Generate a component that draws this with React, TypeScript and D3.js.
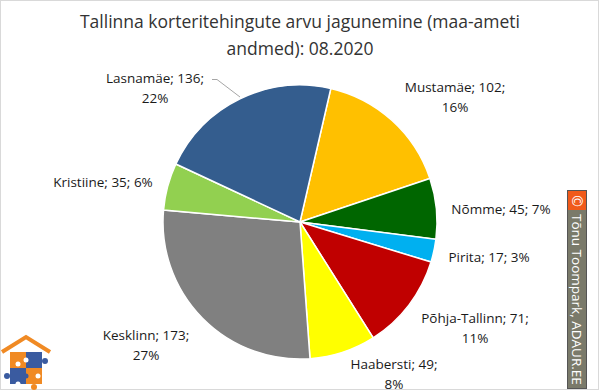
import React from "react";
import * as d3 from "d3";

const districts = ["Mustamäe", "Nõmme", "Pirita", "Põhja-Tallinn", "Haabersti", "Kesklinn", "Kristiine", "Lasnamäe"];
const deals = [102, 45, 17, 71, 49, 173, 35, 136];
const percents = ["16%", "7%", "3%", "11%", "8%", "27%", "6%", "22%"];
const colors = ["#FFC000", "#006600", "#00B0F0", "#C00000", "#FFFF00", "#808080", "#92D050", "#345D8E"];
const titleLines = ["Tallinna korteritehingute arvu jagunemine (maa-ameti", "andmed): 08.2020"];
const watermark = "Tõnu Toompark, ADAUR.EE";

// label layout: [x, y, splitAfterValue]
const labelLayout: [number, number, boolean][] = [
  [455, 87, true],
  [501, 209, false],
  [489, 257, false],
  [475, 318, true],
  [394, 364, true],
  [146, 335, true],
  [103, 182, false],
  [155, 78, true],
];

const W = 600, H = 392;
const cx = 300, cy = 222, R = 137;
const startDeg = 13;

export default function App() {
  const data = districts.map((name, i) => ({ name, value: deals[i], color: colors[i], pct: percents[i] }));
  const pie = d3.pie<any>().sort(null).value((d: any) => d.value)
    .startAngle((startDeg * Math.PI) / 180)
    .endAngle((startDeg * Math.PI) / 180 + 2 * Math.PI);
  const arcs = pie(data);
  const arcGen = d3.arc<any>().innerRadius(0).outerRadius(R);
  const font = "'Open Sans', 'Noto Sans', sans-serif";

  return (
    <svg width={W} height={H} style={{ position: "absolute", left: 0, top: 0 }}>
      <rect x={0} y={0} width={W} height={H} fill="#fff" />
      <rect x={0.5} y={0.5} width={598} height={389} fill="#fff" stroke="#d9d9d9" />
      {titleLines.map((t, i) => (
        <text key={i} x={300} y={28 + i * 27} textAnchor="middle" fontFamily={font} fontSize={17.5} fill="#333">{t}</text>
      ))}
      <g transform={`translate(${cx},${cy})`}>
        {arcs.map((a, i) => (
          <path key={i} d={arcGen(a) as string} fill={a.data.color} stroke="#fff" strokeWidth={1.5} />
        ))}
      </g>
      {/* leader line for Lasnamäe */}
      <polyline points="212,79.5 217,79.5 240,97" fill="none" stroke="#a6a6a6" strokeWidth={1} />
      {arcs.map((a, i) => {
        const [x, y, split] = labelLayout[i];
        const l1 = split ? `${a.data.name}; ${a.data.value};` : `${a.data.name}; ${a.data.value}; ${a.data.pct}`;
        return (
          <text key={i} x={x} y={y} textAnchor="middle" dominantBaseline="central" fontFamily={font} fontSize={13.5} fill="#1a1a1a">
            <tspan x={x}>{l1}</tspan>
            {split && <tspan x={x} dy={20}>{a.data.pct}</tspan>}
          </text>
        );
      })}
      {/* logo */}
      <g>
        <polyline points="2,352 26,337 50,352" fill="none" stroke="#F08A24" strokeWidth={4} strokeLinejoin="miter" />
        <rect x={10} y={352} width={16} height={16} fill="#F08A24" />
        <rect x={26} y={352} width={16} height={16} fill="#3A5BA0" />
        <rect x={10} y={368} width={16} height={16} fill="#3A5BA0" />
        <rect x={26} y={368} width={16} height={16} fill="#F08A24" />
        <circle cx={7} cy={376} r={3} fill="#3A5BA0" />
        <circle cx={34} cy={387} r={3} fill="#F08A24" />
        <circle cx={45} cy={361} r={3} fill="#3A5BA0" />
        <circle cx={18} cy={364} r={2.5} fill="#fff" />
        <circle cx={26} cy={360} r={2.5} fill="#fff" />
        <circle cx={38} cy={376} r={2.5} fill="#fff" />
        <circle cx={18} cy={384} r={2.5} fill="#fff" />
        <circle cx={26} cy={376} r={2.5} fill="#3A5BA0" />
      </g>
      {/* watermark */}
      <g>
        <rect x={567.5} y={190.5} width={19} height={198} fill="#7a7a6a" stroke="#555" />
        <rect x={568} y={191} width={18} height={19} fill="#F05A1A" />
        <text x={577} y={201} textAnchor="middle" dominantBaseline="central" fontFamily={font} fontSize={14} fill="#fff" transform="rotate(90 577 201)">©</text>
        <text x={577} y={214} dominantBaseline="central" fontFamily={font} fontSize={13.5} fill="#fff" transform="rotate(90 577 214)">{watermark}</text>
      </g>
    </svg>
  );
}
